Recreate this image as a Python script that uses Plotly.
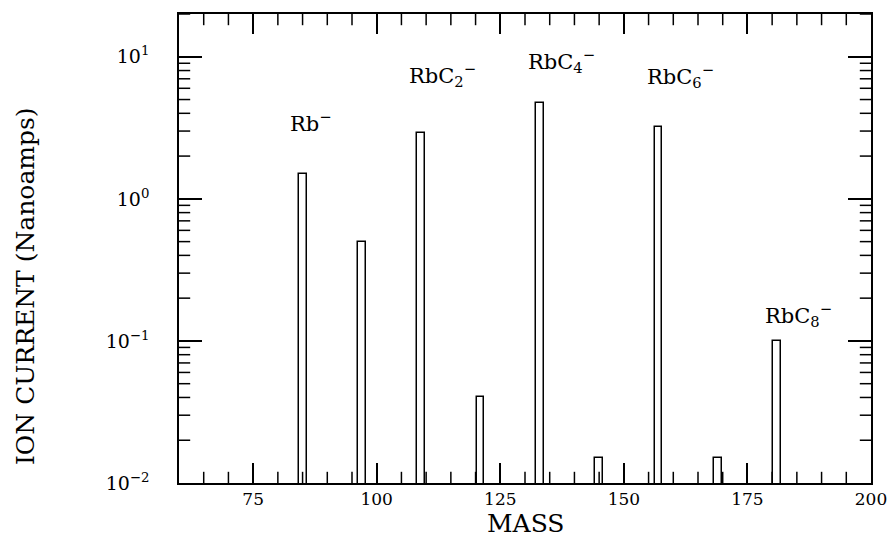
import math
import plotly.graph_objects as go

# Data
masses = [85, 97, 109, 121, 133, 145, 157, 169, 181]
currents = [1.5, 0.5, 2.9, 0.04, 4.7, 0.015, 3.2, 0.015, 0.1]

label_texts = ["Rb<sup>−</sup>", "RbC<sub>2</sub><sup>−</sup>", "RbC<sub>4</sub><sup>−</sup>",
               "RbC<sub>6</sub><sup>−</sup>", "RbC<sub>8</sub><sup>−</sup>"]
label_x = [82.0, 106.1, 130.3, 154.2, 178.1]
label_y = [3.5, 7.5, 9.3, 7.3, 0.152]

x_tickvals = [75, 100, 125, 150, 175, 200]
x_minor = [v for v in range(65, 200, 5) if v % 25 != 0]
y_tickvals = [0.01, 0.1, 1, 10]
y_ticktext = ["10<sup>−2</sup>", "10<sup>−1</sup>", "10<sup>0</sup>", "10<sup>1</sup>"]
y_minor = [m * 10 ** e for e in (-2, -1, 0) for m in range(2, 10)] + [20]

FONT = "DejaVu Serif"
XR = [60, 200]
YRV = [0.01, 20]
YR = [math.log10(YRV[0]), math.log10(YRV[1])]

fig = go.Figure()
fig.add_trace(go.Bar(
    x=masses, y=currents, width=1.6,
    marker=dict(color="white", line=dict(color="black", width=1.5)),
    showlegend=False, hoverinfo="x+y",
))

# minor tick marks: line markers centred on the frame, half clipped away -> inside ticks
tick_marker = dict(size=16, color="black", line=dict(width=1.5, color="black"))
for yv in YRV:
    fig.add_trace(go.Scatter(
        x=x_minor, y=[yv] * len(x_minor), mode="markers", cliponaxis=True,
        marker=dict(symbol="line-ns", **tick_marker), showlegend=False, hoverinfo="skip"))
for xv in XR:
    fig.add_trace(go.Scatter(
        x=[xv] * len(y_minor), y=y_minor, mode="markers", cliponaxis=True,
        marker=dict(symbol="line-ew", **tick_marker), showlegend=False, hoverinfo="skip"))

for t, x, y in zip(label_texts, label_x, label_y):
    fig.add_annotation(x=x, y=math.log10(y), text=t, showarrow=False,
                       xanchor="left", yanchor="middle",
                       font=dict(family=FONT, size=21, color="black"))

# axis titles as annotations (placed like the reference)
fig.add_annotation(xref="paper", yref="paper", x=-0.2225, y=0.42,
                   text="ION CURRENT (Nanoamps)", textangle=-90, showarrow=False,
                   xanchor="center", yanchor="middle",
                   font=dict(family=FONT, size=25, color="black"))
fig.add_annotation(xref="paper", yref="paper", x=0.5, y=-0.1225,
                   text="MASS", showarrow=False, xanchor="center", yanchor="bottom",
                   font=dict(family=FONT, size=25, color="black"))

fig.update_layout(
    width=887, height=541,
    margin=dict(l=179, r=16, t=14, b=58),
    plot_bgcolor="white", paper_bgcolor="white",
    font=dict(family=FONT, color="black", size=15),
    bargap=0,
    xaxis=dict(
        range=XR, tickvals=x_tickvals, ticks="inside", ticklen=20, tickwidth=1.5,
        tickcolor="black", showline=True, linecolor="black", linewidth=1.5, mirror="ticks",
        showgrid=False, zeroline=False, automargin=False, ticklabeloverflow="allow",
        tickfont=dict(family=FONT, size=17),
    ),
    yaxis=dict(
        type="log", range=YR, tickvals=y_tickvals, ticktext=y_ticktext,
        ticks="inside", ticklen=23, tickwidth=1.5, tickcolor="black",
        showline=True, linecolor="black", linewidth=1.5, mirror="ticks",
        showgrid=False, zeroline=False, automargin=False,
        tickfont=dict(family=FONT, size=19),
        ticklabelstandoff=24,
    ),
)

fig.write_html("out.html")
